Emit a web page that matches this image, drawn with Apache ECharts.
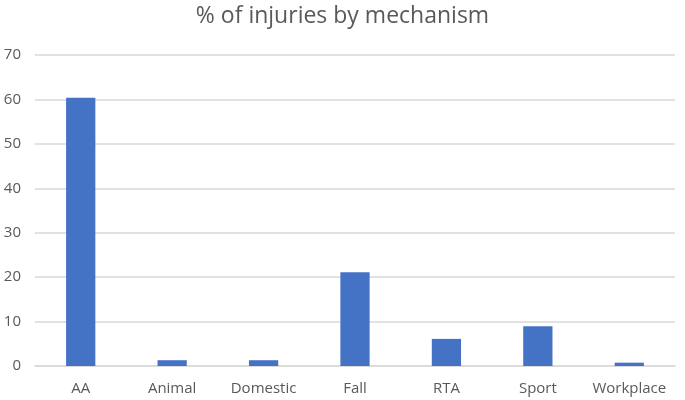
<!DOCTYPE html>
<html>
<head>
<meta charset="utf-8">
<script src="https://cdn.jsdelivr.net/npm/echarts@6/dist/echarts.min.js"></script>
<style>html,body{margin:0;padding:0;background:#fff}#c{width:685px;height:400px}</style>
</head>
<body>
<div id="c"></div>
<script>
const categories = ["AA", "Animal", "Domestic", "Fall", "RTA", "Sport", "Workplace"];
const values = [60.4, 1.3, 1.3, 21.1, 6.1, 8.95, 0.75];
const yTicks = { min: 0, max: 70, interval: 10 };
const titleText = "% of injuries by mechanism";

const chart = echarts.init(document.getElementById('c'), null, { renderer: 'canvas' });
const fontFam = '"Open Sans", "Liberation Sans", sans-serif';
chart.setOption({
  animation: false,
  backgroundColor: '#fff',
  title: {
    text: titleText, left: 'center', top: 0,
    textStyle: { color: '#595959', fontSize: 23, fontWeight: 'normal', fontFamily: fontFam }
  },
  grid: { left: 35, right: 10, top: 55, bottom: 34 },
  xAxis: {
    type: 'category', data: categories,
    axisLine: { lineStyle: { color: '#d9d9d9', width: 1.5 } },
    axisTick: { show: false },
    axisLabel: { color: '#595959', fontSize: 15, fontFamily: fontFam, margin: 15, interval: 0, hideOverlap: false }
  },
  yAxis: {
    type: 'value', min: yTicks.min, max: yTicks.max, interval: yTicks.interval,
    axisLine: { show: false }, axisTick: { show: false },
    axisLabel: { color: '#595959', fontSize: 15, fontFamily: fontFam, margin: 14 },
    splitLine: { lineStyle: { color: '#d9d9d9', width: 1.5 } }
  },
  series: [{
    type: 'bar', data: values, barWidth: '32%',
    itemStyle: { color: '#4472C4' }
  }]
});
</script>
</body>
</html>
